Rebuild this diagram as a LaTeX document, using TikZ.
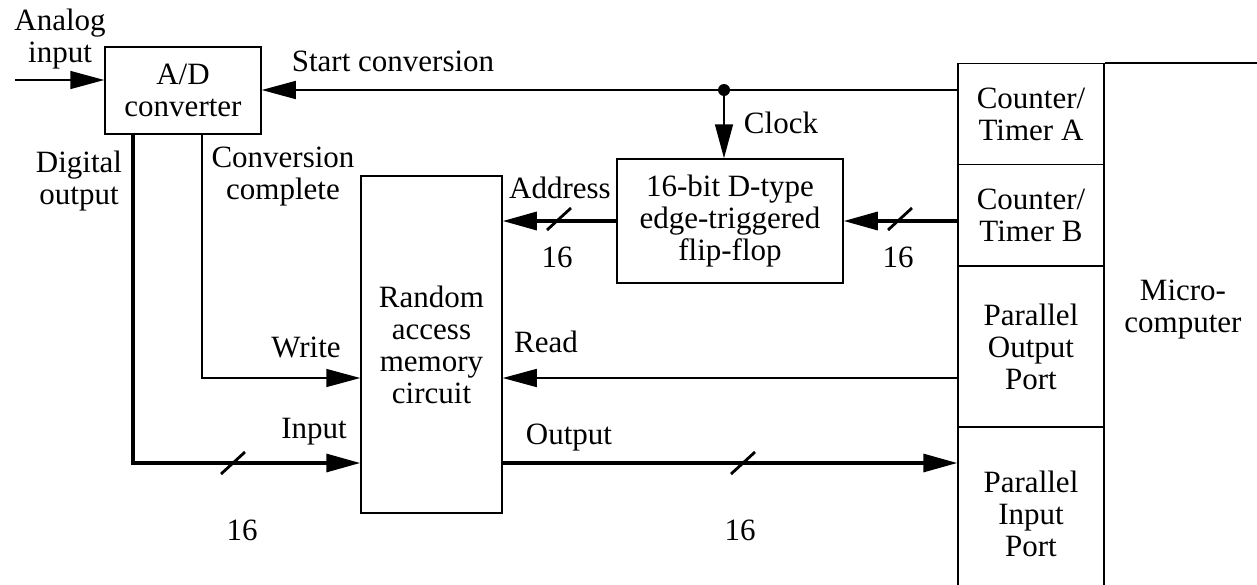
\documentclass[tikz,border=0pt]{standalone}
\usepackage{fontspec}
\setmainfont{Liberation Serif}
\usetikzlibrary{arrows.meta}

\tikzset{
  blk/.style={draw, line width=0.75pt, inner sep=0pt, align=center},
  lbl/.style={inner sep=0pt, align=center},
  sig/.style={line width=0.75pt, -{Triangle[length=17pt,width=9pt]}},
  bus/.style={line width=1.6pt, -{Triangle[length=17pt,width=9pt]}},
  slash/.style={line width=1.4pt},
}

\begin{document}
\begin{tikzpicture}[x=0.5pt, y=-0.5pt, font=\fontsize{15.5}{16}\selectfont]
\useasboundingbox (0,0) rectangle (1257,584);

% ===== Blocks =====
\node[blk, minimum width=78pt, minimum height=43.5pt] (adc) at (183,90.5) {A/D\\converter};
\node[blk, minimum width=113pt, minimum height=62pt] (ff) at (730,221) {16-bit D-type\\edge-triggered\\flip-flop};
\node[blk, minimum width=70.5pt, minimum height=168.5pt] (ram) at (431.5,344.5) {Random\\access\\memory\\circuit};

% ===== Microcomputer =====
\node[blk, minimum width=73pt, minimum height=50.5pt] (cta) at (1031,114) {Counter/\\Timer A};
\node[blk, minimum width=73pt, minimum height=50.5pt] (ctb) at (1031,215) {Counter/\\Timer B};
\node[blk, minimum width=73pt, minimum height=80.5pt] (pop) at (1031,346.5) {Parallel\\Output\\Port};
\node[blk, minimum width=73pt, minimum height=86.5pt] (pip) at (1031,513.5) {Parallel\\Input\\Port};
\draw[line width=0.75pt] (cta.north east) -- ++(160,0);
\node[lbl] (mc) at (1183,310) {Micro-\\computer};

% ===== Points =====
\coordinate (ain) at (15,80);
\coordinate (clk) at (724,90);
\coordinate (rw) at (0,378);
\coordinate (io) at (0,463);

% ===== Connectors =====
\draw[sig] (ain) -- (ain -| adc.west);
\draw[sig] (clk -| cta.west) -- (clk -| adc.east);
\fill (clk) circle (3pt);
\draw[sig] (clk) -- (clk |- ff.north);
\draw[bus] (ff.east -| ctb.west) -- (ff.east);
\draw[bus] (ff.west) -- (ff.west -| ram.east);
\draw[sig] ([xshift=9.5pt]adc.south) |- (rw -| ram.west);
\draw[sig] (rw -| pop.west) -- (rw -| ram.east);
\draw[bus] ([xshift=-25pt]adc.south) |- (io -| ram.west);
\draw[bus] (io -| ram.east) -- (io -| pip.west);

% ===== Bus widths =====
\foreach \sx/\sy in {559/219, 900/219, 233/463, 743/463}
  \draw[slash] (\sx-12,\sy+11) -- (\sx+12,\sy-11);
\node[lbl] (w1) at (557,257) {16};
\node[lbl] (w2) at (898,257) {16};
\node[lbl] (w3) at (242,530) {16};
\node[lbl] (w4) at (740,530) {16};

% ===== Labels =====
\node[lbl] (ailbl) at (60,39) {Analog\\input};
\node[lbl] (sclbl) at (393,61) {Start conversion};
\node[lbl] (clklbl) at (781,123) {Clock};
\node[lbl] (adlbl) at (560,188) {Address};
\node[lbl] (dolbl) at (79,181) {Digital\\output};
\node[lbl] (cclbl) at (283,177) {Conversion\\complete};
\node[lbl] (wlbl) at (306,347) {Write};
\node[lbl] (rlbl) at (546,342) {Read};
\node[lbl] (inlbl) at (314,432) {Input};
\node[lbl] (outlbl) at (569,438) {Output};

\end{tikzpicture}
\end{document}
